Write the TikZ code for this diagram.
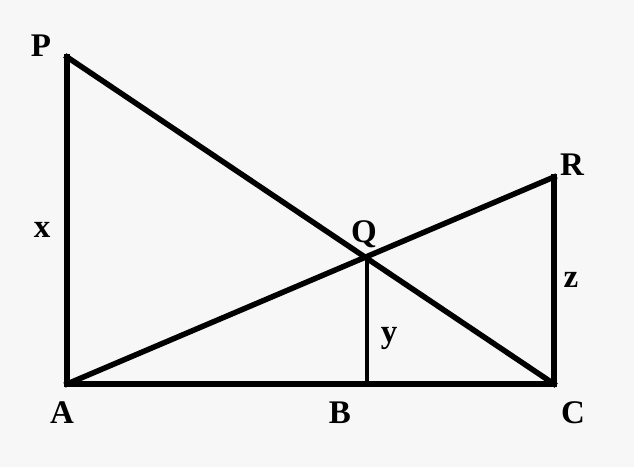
\documentclass[tikz,border=0pt]{standalone}
\usepackage{fontspec}
\setmainfont{Liberation Serif}
\begin{document}
\begin{tikzpicture}[x=1pt,y=-1pt,
  lbl/.style={font=\fontsize{33}{38}\selectfont\bfseries, inner sep=0pt},
  thick line/.style={line width=5.5pt, line join=miter, line cap=rect},
  thin line/.style={line width=3.5pt}]
\fill[fill={rgb,255:red,247;green,247;blue,247}] (0,0) rectangle (634,467);
\useasboundingbox (0,0) rectangle (634,467);
\coordinate (A) at (67,384);
\coordinate (P) at (67,57);
\coordinate (C) at (554,384);
\coordinate (R) at (554,177);
\coordinate (Q) at (367,257);
\coordinate (B) at (367,384);
\draw[thick line] (P) -- (A) -- (C) -- (R);
\draw[thick line] (P) -- (C);
\draw[thick line] (A) -- (R);
\draw[thin line] (Q) -- (B);
\node[lbl] (lP) at (41,46) {P};
\node[lbl] (lA) at (62,413) {A};
\node[lbl] (lB) at (340,413) {B};
\node[lbl] (lC) at (573,413) {C};
\node[lbl] (lQ) at (364,234) {Q};
\node[lbl] (lR) at (572,165) {R};
\node[lbl] (lx) at (42,230) {x};
\node[lbl] (lz) at (571,280) {z};
\node[lbl] (ly) at (389,338) {y};
\end{tikzpicture}
\end{document}
